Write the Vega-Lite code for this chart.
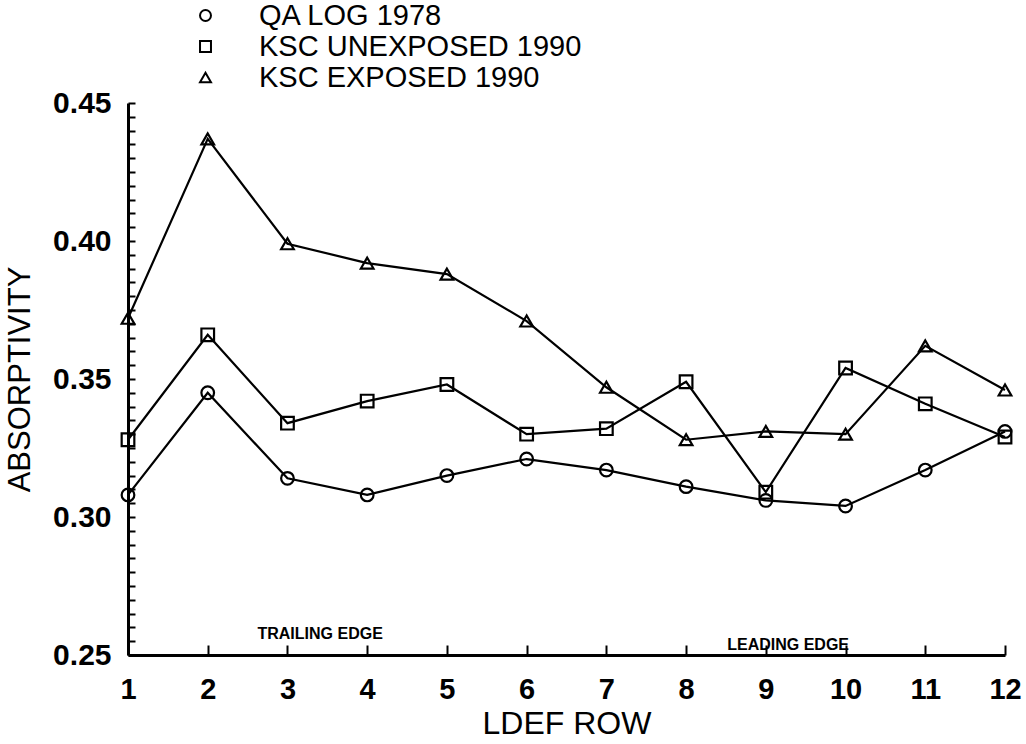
{
  "$schema": "https://vega.github.io/schema/vega-lite/v6.json",
  "autosize": {"type": "none"},
  "padding": {"left": 128, "top": 103, "right": 21, "bottom": 89},
  "width": 877,
  "height": 552,
  "background": "white",
  "config": {
    "view": {"stroke": null},
    "font": "Liberation Sans",
    "axis": {"grid": false, "domainColor": "black", "tickColor": "black", "labelColor": "black", "titleColor": "black"}
  },
  "datasets": {
    "absorptivity": [
      {"row": 1, "value": 0.308, "series": "QA LOG 1978"},
      {"row": 2, "value": 0.345, "series": "QA LOG 1978"},
      {"row": 3, "value": 0.314, "series": "QA LOG 1978"},
      {"row": 4, "value": 0.308, "series": "QA LOG 1978"},
      {"row": 5, "value": 0.315, "series": "QA LOG 1978"},
      {"row": 6, "value": 0.321, "series": "QA LOG 1978"},
      {"row": 7, "value": 0.317, "series": "QA LOG 1978"},
      {"row": 8, "value": 0.311, "series": "QA LOG 1978"},
      {"row": 9, "value": 0.306, "series": "QA LOG 1978"},
      {"row": 10, "value": 0.304, "series": "QA LOG 1978"},
      {"row": 11, "value": 0.317, "series": "QA LOG 1978"},
      {"row": 12, "value": 0.331, "series": "QA LOG 1978"},
      {"row": 1, "value": 0.328, "series": "KSC UNEXPOSED 1990"},
      {"row": 2, "value": 0.366, "series": "KSC UNEXPOSED 1990"},
      {"row": 3, "value": 0.334, "series": "KSC UNEXPOSED 1990"},
      {"row": 4, "value": 0.342, "series": "KSC UNEXPOSED 1990"},
      {"row": 5, "value": 0.348, "series": "KSC UNEXPOSED 1990"},
      {"row": 6, "value": 0.330, "series": "KSC UNEXPOSED 1990"},
      {"row": 7, "value": 0.332, "series": "KSC UNEXPOSED 1990"},
      {"row": 8, "value": 0.349, "series": "KSC UNEXPOSED 1990"},
      {"row": 9, "value": 0.309, "series": "KSC UNEXPOSED 1990"},
      {"row": 10, "value": 0.354, "series": "KSC UNEXPOSED 1990"},
      {"row": 11, "value": 0.341, "series": "KSC UNEXPOSED 1990"},
      {"row": 12, "value": 0.329, "series": "KSC UNEXPOSED 1990"},
      {"row": 1, "value": 0.372, "series": "KSC EXPOSED 1990"},
      {"row": 2, "value": 0.437, "series": "KSC EXPOSED 1990"},
      {"row": 3, "value": 0.399, "series": "KSC EXPOSED 1990"},
      {"row": 4, "value": 0.392, "series": "KSC EXPOSED 1990"},
      {"row": 5, "value": 0.388, "series": "KSC EXPOSED 1990"},
      {"row": 6, "value": 0.371, "series": "KSC EXPOSED 1990"},
      {"row": 7, "value": 0.347, "series": "KSC EXPOSED 1990"},
      {"row": 8, "value": 0.328, "series": "KSC EXPOSED 1990"},
      {"row": 9, "value": 0.331, "series": "KSC EXPOSED 1990"},
      {"row": 10, "value": 0.330, "series": "KSC EXPOSED 1990"},
      {"row": 11, "value": 0.362, "series": "KSC EXPOSED 1990"},
      {"row": 12, "value": 0.346, "series": "KSC EXPOSED 1990"}
    ],
    "notes": [
      {"note": "TRAILING EDGE", "row": 3.41, "value": 0.2576},
      {"note": "LEADING EDGE", "row": 9.28, "value": 0.2536}
    ]
  },
  "encoding": {
    "x": {
      "field": "row", "type": "quantitative",
      "scale": {"domain": [1, 12], "nice": false, "zero": false},
      "axis": {
        "values": [1, 2, 3, 4, 5, 6, 7, 8, 9, 10, 11, 12],
        "format": "d",
        "title": "LDEF ROW",
        "titleFontSize": 32, "titleFontWeight": "normal", "titlePadding": 4,
        "labelFontSize": 29, "labelFontWeight": "bold", "labelPadding": 30,
        "tickSize": -10, "tickWidth": 2, "domainWidth": 3, "labelFlush": false
      }
    },
    "y": {
      "field": "value", "type": "quantitative",
      "scale": {"domain": [0.25, 0.45], "nice": false, "zero": false},
      "axis": {
        "values": [0.25, 0.255, 0.26, 0.265, 0.27, 0.275, 0.28, 0.285, 0.29, 0.295, 0.30, 0.305, 0.31, 0.315, 0.32, 0.325, 0.33, 0.335, 0.34, 0.345, 0.35, 0.355, 0.36, 0.365, 0.37, 0.375, 0.38, 0.385, 0.39, 0.395, 0.40, 0.405, 0.41, 0.415, 0.42, 0.425, 0.43, 0.435, 0.44, 0.445, 0.45],
        "labelExpr": "abs(datum.value*20 - round(datum.value*20)) < 0.001 ? format(datum.value, '.2f') : ''",
        "title": "ABSORPTIVITY",
        "titleFontSize": 31, "titleFontWeight": "normal", "titlePadding": 16,
        "labelFontSize": 30, "labelFontWeight": "bold", "labelPadding": 24,
        "tickSize": -7, "tickWidth": 2, "domainWidth": 3, "labelFlush": false, "labelOverlap": false
      }
    }
  },
  "layer": [
    {
      "data": {"name": "absorptivity"},
      "mark": {"type": "line", "color": "black", "strokeWidth": 2.2},
      "encoding": {"detail": {"field": "series"}}
    },
    {
      "data": {"name": "absorptivity"},
      "mark": {"type": "point", "filled": false, "color": "black", "strokeWidth": 2.2, "size": 160, "opacity": 1},
      "encoding": {
        "shape": {
          "field": "series", "type": "nominal",
          "scale": {"domain": ["QA LOG 1978", "KSC UNEXPOSED 1990", "KSC EXPOSED 1990"], "range": ["circle", "square", "triangle-up"]},
          "legend": {
            "title": null, "orient": "none", "legendX": 63, "legendY": -102,
            "labelFontSize": 29, "labelColor": "black", "labelOffset": 39, "rowPadding": 1,
            "symbolSize": 120, "symbolStrokeColor": "black", "symbolStrokeWidth": 2, "symbolOpacity": 1,
            "padding": 0, "labelLimit": 500
          }
        }
      }
    },
    {
      "data": {"name": "notes"},
      "mark": {"type": "text", "fontWeight": "bold", "fontSize": 16, "color": "black", "align": "center", "baseline": "middle"},
      "encoding": {"text": {"field": "note"}}
    }
  ]
}
